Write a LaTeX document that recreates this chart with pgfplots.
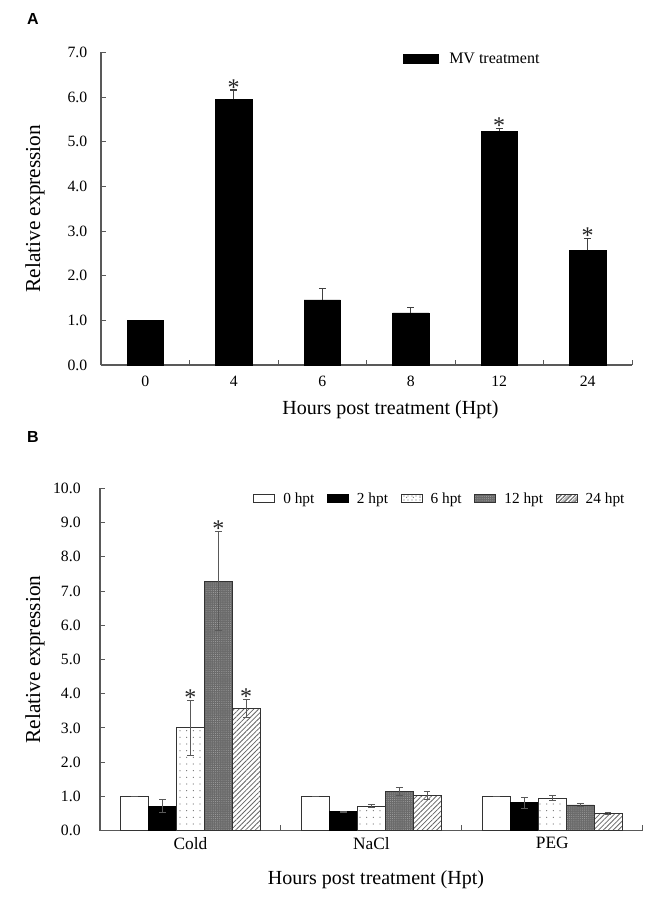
\documentclass[border=0pt]{standalone}
\usepackage{fontspec}
\setmainfont{Liberation Serif}
\newfontfamily\panelfont{Liberation Sans}
\usepackage{pgfplots}
\usepackage{pgfplotstable}
\pgfplotsset{compat=1.18}
\usetikzlibrary{patterns.meta}

\definecolor{axgray}{gray}{0.35}
\definecolor{errgray}{gray}{0.35}

\pgfplotstableread{
x   y0   e0   y2   e2   y6   e6   y12  e12  y24  e24
0   1.00 0.00 0.72 0.19 3.00 0.80 7.29 1.45 3.57 0.26
1   1.00 0.00 0.55 0.02 0.72 0.04 1.15 0.11 1.02 0.12
2   1.00 0.00 0.81 0.16 0.95 0.07 0.75 0.04 0.50 0.02
}\datB

\pgfplotsset{
  common/.style={
    scale only axis,
    anchor=south west,
    axis lines=left,
    axis line style={-, axgray, line width=0.8pt},
    tick align=inside,
    major tick length=4pt,
    minor tick length=4pt,
    tick style={axgray, line width=0.7pt},
    major x tick style={draw=none},
    /pgf/number format/assume math mode=true,
    ticklabel style={font=\fontsize{11.8}{13}\selectfont},
    yticklabel style={/pgf/number format/fixed, /pgf/number format/fixed zerofill, /pgf/number format/precision=1},
    every axis y label/.style={rotate=90, anchor=center, font=\fontsize{16}{18}\selectfont},
    every axis x label/.style={anchor=center, font=\fontsize{15}{17}\selectfont},
    clip=false,
  },
  errs/.style={
    error bars/y dir=both,
    error bars/y explicit,
    error bars/error bar style={errgray, line width=0.7pt},
    error bars/error mark options={errgray, line width=0.7pt, mark size=2.5pt, rotate=90},
  },
  star/.style={draw=none, mark=none, forget plot,
    nodes near coords={*},
    every node near coord/.append style={font=\fontsize{18}{18}\selectfont, anchor=south, inner sep=0pt, yshift=-4pt, text=black!85}},
}

\begin{document}
\begin{tikzpicture}
\path[use as bounding box] (0,0) rectangle (499.5pt,-678pt);
\node[font=\panelfont\bfseries\fontsize{12}{14}\selectfont] at (24.75pt,-14.25pt) {A};
\node[font=\panelfont\bfseries\fontsize{12}{14}\selectfont] at (24.75pt,-327.75pt) {B};

% Panel A
\begin{axis}[common,
  at={(75.75pt,-273.75pt)},
  width=398.25pt, height=234.4pt,
  xmin=-0.5, xmax=5.5, ymin=0, ymax=7,
  ytick={0,1,...,7},
  xtick={0,1,2,3,4,5},
  xticklabels={0,4,6,8,12,24},
  minor xtick={0.5,1.5,2.5,3.5,4.5,5.5},
  yticklabel style={xshift=-6.75pt},
  xticklabel style={yshift=-5pt},
  xlabel={Hours post treatment (Hpt)},
  ylabel={Relative expression},
  xlabel style={at={(axis description cs:0.5452,-0.144)}},
  ylabel style={at={(axis description cs:-0.1243,0.5)}},
  legend style={at={(axis description cs:0.569,0.979)}, anchor=west, draw=none, fill=none,
    font=\fontsize{12}{14}\selectfont, inner sep=0pt,
    nodes={inner sep=2pt}},
]
\addplot[ybar, bar width=0.41, fill=black, draw=black,
  error bars/y dir=plus, error bars/y explicit,
  error bars/error bar style={black!75, line width=0.8pt},
  error bars/error mark options={black!75, line width=0.8pt, mark size=2.5pt, rotate=90},
  legend image code/.code={\draw[fill=black, draw=black] (0pt,-3.4pt) rectangle (26pt,3.4pt);}]
  coordinates {(0,1.00) (1,5.95) +- (0,0.21) (2,1.46) +- (0,0.25)
               (3,1.17) +- (0,0.12) (4,5.24) +- (0,0.06) (5,2.57) +- (0,0.26)};
\addlegendentry{\hspace{6pt}MV treatment}
\addplot[star] coordinates {(1,6.16) (4,5.30) (5,2.83)};
\end{axis}

% Panel B
\begin{axis}[common,
  at={(75pt,-623.0pt)},
  width=407.1pt, height=256.8pt,
  xmin=-0.5, xmax=2.5, ymin=0, ymax=10,
  ytick={0,1,...,10},
  xtick={0,1,2},
  xticklabels={Cold,NaCl,PEG},
  minor xtick={0.5,1.5,2.5},
  yticklabel style={xshift=-11pt},
  xticklabel style={yshift=-1.5pt, font=\fontsize{13}{15}\selectfont},
  xlabel={Hours post treatment (Hpt)},
  ylabel={Relative expression},
  xlabel style={at={(axis description cs:0.5085,-0.144)}},
  ylabel style={at={(axis description cs:-0.1197,0.5)}},
  legend columns=5,
  legend style={at={(axis description cs:0.282,0.969)}, anchor=west, draw=none, fill=none,
    font=\fontsize{11.5}{13}\selectfont, inner sep=0pt,
    nodes={inner sep=2pt},
    /tikz/every even column/.append style={column sep=7.5pt}},
]
\addplot[ybar, bar width=0.154, bar shift=0, fill=white, draw=black!80, line width=0.7pt, errs,
  legend image code/.code={\draw[fill=white, draw=black!80, line width=0.7pt] (0pt,-3pt) rectangle (15.75pt,3pt);}]
  table[x expr=\thisrow{x}-0.308, y=y0, y error=e0] {\datB};
\addlegendentry{\hspace{4pt}0 hpt}
\addplot[ybar, bar width=0.154, bar shift=0, fill=black, draw=black, line width=0.7pt, errs,
  legend image code/.code={\draw[fill=black, draw=black, line width=0.7pt] (0pt,-3pt) rectangle (15.75pt,3pt);}]
  table[x expr=\thisrow{x}-0.154, y=y2, y error=e2] {\datB};
\addlegendentry{\hspace{4pt}2 hpt}
\addplot[ybar, bar width=0.154, bar shift=0, fill=white, draw=black!80, line width=0.7pt,
  postaction={pattern={Dots[distance=5pt, radius=0.45pt]}, pattern color=black!55}, errs,
  legend image code/.code={\draw[fill=white, draw=black!80, line width=0.7pt, postaction={pattern={Dots[distance=3pt, radius=0.4pt]}, pattern color=black!55}] (0pt,-3pt) rectangle (15.75pt,3pt);}]
  table[x expr=\thisrow{x}, y=y6, y error=e6] {\datB};
\addlegendentry{\hspace{4pt}6 hpt}
\addplot[ybar, bar width=0.154, bar shift=0, fill=black!58, draw=black!80, line width=0.7pt,
  postaction={pattern={Dots[distance=1.6pt, radius=0.35pt]}, pattern color=black!35}, errs,
  legend image code/.code={\draw[fill=black!58, draw=black!80, line width=0.7pt] (0pt,-3pt) rectangle (15.75pt,3pt);}]
  table[x expr=\thisrow{x}+0.154, y=y12, y error=e12] {\datB};
\addlegendentry{\hspace{4pt}12 hpt}
\addplot[ybar, bar width=0.154, bar shift=0, fill=white, draw=black!80, line width=0.7pt,
  postaction={pattern={Lines[angle=45, distance=2.6pt, line width=0.6pt]}, pattern color=black!60}, errs,
  legend image code/.code={\draw[fill=white, draw=black!80, line width=0.7pt, postaction={pattern={Lines[angle=45, distance=1.8pt, line width=0.5pt]}, pattern color=black!50}] (0pt,-3pt) rectangle (15.75pt,3pt);}]
  table[x expr=\thisrow{x}+0.308, y=y24, y error=e24] {\datB};
\addlegendentry{\hspace{4pt}24 hpt}
\addplot[star] coordinates {(0,3.80) (0.154,8.74) (0.308,3.83)};
\end{axis}
\end{tikzpicture}
\end{document}
